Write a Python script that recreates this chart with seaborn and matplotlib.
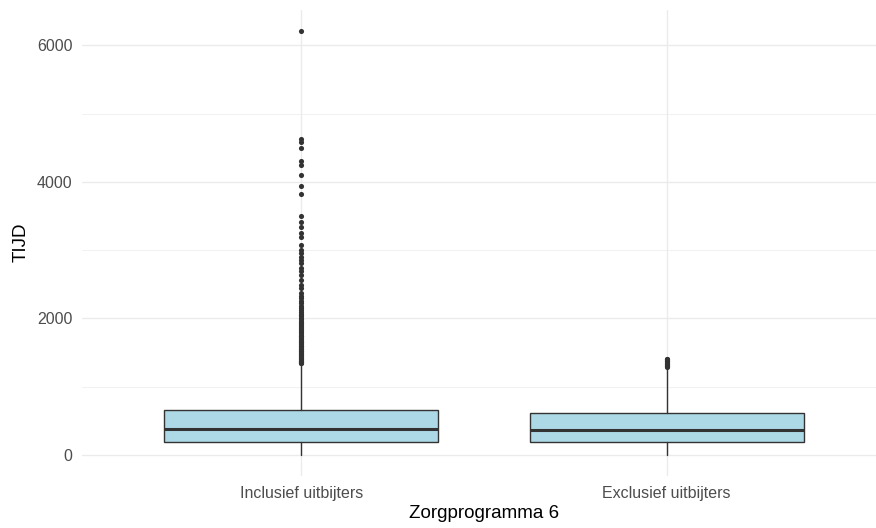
import pandas as pd
import matplotlib.pyplot as plt
import seaborn as sns

groups = ['Inclusief uitbijters', 'Exclusief uitbijters']

# box summary per group
q1 = [195, 185]
medians = [380, 365]
q3 = [660, 615]
whisker_lo = [0, 0]
whisker_hi = [1340, 1270]

# outlying points
outliers_incl = [6215, 4630, 4580, 4500, 4300, 4250, 4100, 3940, 3820, 3500,
                 3420, 3345, 3250, 3200, 3080, 3010, 2955, 2905, 2860, 2810,
                 2735, 2690, 2640, 2565, 2490, 2445, 2370, 2330, 2295, 2260,
                 2220, 2180, 2150, 2120, 2095, 2070, 2050, 2030, 2010, 1990,
                 1970, 1955, 1940, 1920, 1905, 1890, 1870, 1855, 1840, 1825,
                 1810, 1795, 1780, 1765, 1750, 1738, 1725, 1712, 1700, 1688,
                 1675, 1662, 1650, 1638, 1625, 1612, 1600, 1590, 1580, 1570,
                 1560, 1550, 1540, 1530, 1520, 1510, 1500, 1490, 1480, 1470,
                 1460, 1450, 1440, 1430, 1420, 1410, 1400, 1390, 1380, 1372,
                 1365, 1358, 1350, 1345]
outliers_excl = [1290, 1300, 1310, 1320, 1330, 1340, 1350, 1360, 1370, 1380,
                 1390, 1400, 1410]

df = pd.DataFrame({
    'groep': [groups[0]] * len(outliers_incl) + [groups[1]] * len(outliers_excl),
    'TIJD': outliers_incl + outliers_excl,
})

sns.set_theme(style='whitegrid')
plt.rcParams['font.family'] = ['Liberation Sans', 'DejaVu Sans']

fig = plt.figure(figsize=(8.76, 5.28), dpi=100)
# panel runs a little past the right edge, like the source image
ax = fig.add_axes([82 / 876, 52 / 528, 804 / 876, 466.5 / 528])

sns.stripplot(data=df, x='groep', y='TIJD', order=groups, jitter=False,
              color='#333333', size=3.7, linewidth=0, ax=ax, zorder=4)

stats = []
for i, g in enumerate(groups):
    stats.append(dict(label=g, q1=q1[i], med=medians[i], q3=q3[i],
                      whislo=whisker_lo[i], whishi=whisker_hi[i], fliers=[]))
ax.bxp(stats, positions=[0, 1], widths=0.75, patch_artist=True,
       showcaps=False, showfliers=False, manage_ticks=False,
       boxprops=dict(facecolor='#ADD8E6', edgecolor='#333333', linewidth=1),
       medianprops=dict(color='#333333', linewidth=2.2),
       whiskerprops=dict(color='#333333', linewidth=1), zorder=3)

ax.set_xlim(-0.6, 1.6)
ax.set_ylim(-308, 6527)
ax.set_xticks([0, 1])
ax.set_xticklabels(groups)
ax.set_yticks([0, 2000, 4000, 6000])
ax.set_yticks([1000, 3000, 5000], minor=True)

ax.set_facecolor('white')
for s in ax.spines.values():
    s.set_visible(False)
ax.grid(False)
ax.xaxis.grid(True, which='major', color='#EBEBEB', linewidth=1.0)
ax.yaxis.grid(True, which='major', color='#EBEBEB', linewidth=1.0)
ax.yaxis.grid(True, which='minor', color='#EBEBEB', linewidth=0.5)
ax.set_axisbelow(True)
ax.tick_params(which='both', length=0, labelsize=11.5, labelcolor='#4D4D4D')
ax.tick_params(axis='y', pad=7)
ax.tick_params(axis='x', pad=7)

ax.set_xlabel('Zorgprogramma 6', fontsize=13.5, color='black', labelpad=3)
ax.set_ylabel('TIJD', fontsize=13.5, color='black', labelpad=5)

plt.savefig('out.png', dpi=100)
